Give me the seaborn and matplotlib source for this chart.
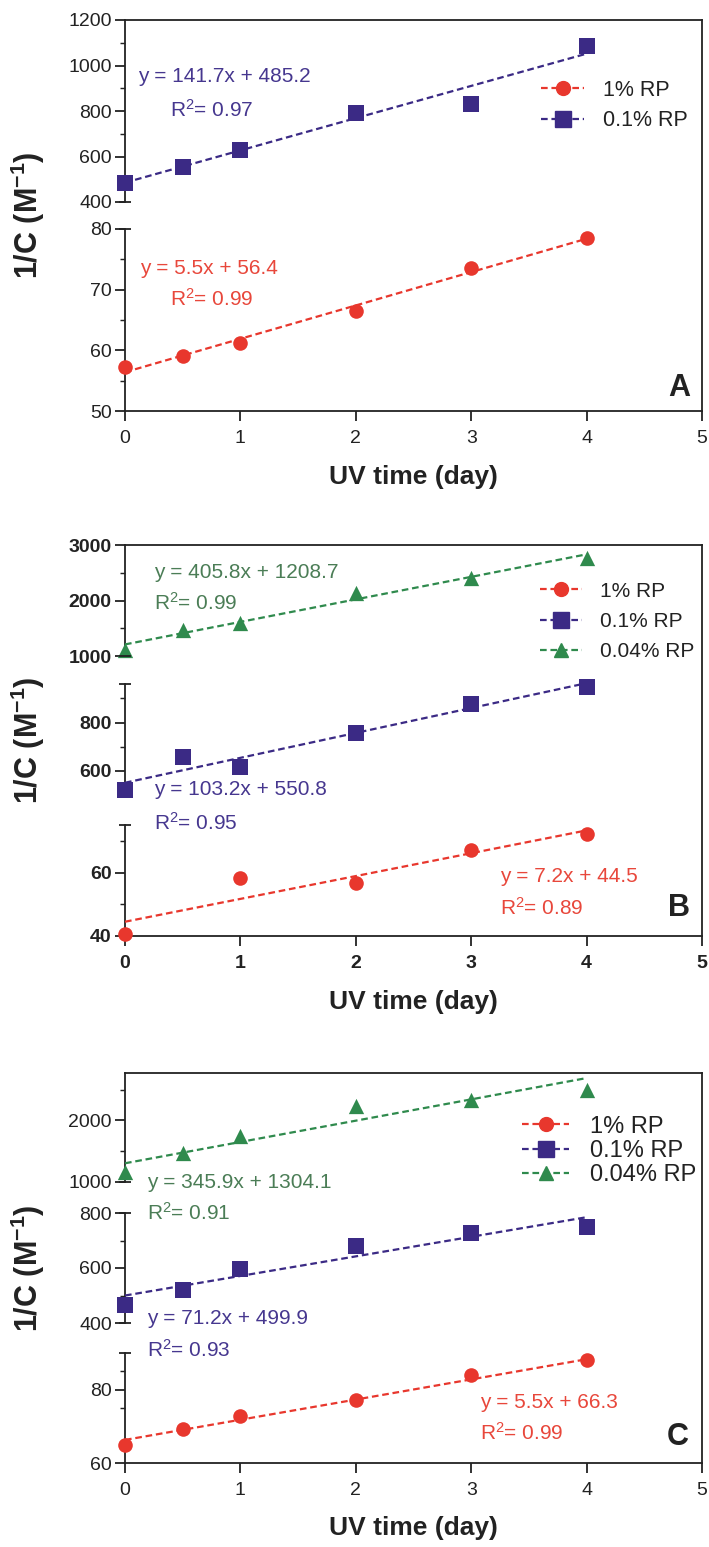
import numpy as np
import pandas as pd
import matplotlib
matplotlib.use("Agg")
import matplotlib.pyplot as plt
from matplotlib.lines import Line2D
import seaborn as sns

# ---------------- data ----------------
days = [0, 0.5, 1, 2, 3, 4]
days_b_rp1 = [0, 1, 2, 3, 4]

# Panel A
a_rp1 = [57.2, 59.0, 61.2, 66.5, 73.6, 78.5]
a_rp01 = [484, 552, 630, 793, 829, 1085]
a_fit_rp1 = (5.5, 56.4, 0.99)
a_fit_rp01 = (141.7, 485.2, 0.97)

# Panel B
b_rp1 = [40.5, 58.4, 56.8, 67.0, 72.3]
b_rp01 = [520, 657, 614, 755, 876, 948]
b_rp004 = [1108, 1468, 1600, 2129, 2399, 2759]
b_fit_rp1 = (7.2, 44.5, 0.89)
b_fit_rp01 = (103.2, 550.8, 0.95)
b_fit_rp004 = (405.8, 1208.7, 0.99)

# Panel C
c_rp1 = [65.0, 69.4, 72.7, 77.2, 83.9, 88.0]
c_rp01 = [466, 519, 597, 679, 727, 749]
c_rp004 = [1162, 1470, 1741, 2227, 2335, 2486]
c_fit_rp1 = (5.5, 66.3, 0.99)
c_fit_rp01 = (71.2, 499.9, 0.93)
c_fit_rp004 = (345.9, 1304.1, 0.91)

series_labels = ["1% RP", "0.1% RP", "0.04% RP"]
x_ticks = [0, 1, 2, 3, 4, 5]

# ---------------- style ----------------
sns.set_theme(style="ticks")
plt.rcParams["font.family"] = ["Liberation Sans", "DejaVu Sans"]
plt.rcParams["mathtext.fontset"] = "custom"
plt.rcParams["mathtext.rm"] = "Liberation Sans"
plt.rcParams["mathtext.it"] = "Liberation Sans:italic"
plt.rcParams["mathtext.bf"] = "Liberation Sans:bold"

RED, PURPLE, GREEN = "#e8372d", "#3b2a85", "#2f8a4d"
RED_T, PURPLE_T, GREEN_T = "#e8473b", "#46378f", "#4b7d56"
INK = "#222222"
SPINE_W = 1.3
FIT_W = 1.6
FIT_DASH = (3.0, 1.7)

W, H = 709, 1547
fig = plt.figure(figsize=(W / 100, H / 100), dpi=100)
X0, X1 = 125, 702


def fx(px):
    return px / W


def fy(py):
    return 1 - py / H


def new_axes(top, bottom):
    ax = fig.add_axes([fx(X0), fy(bottom), (X1 - X0) / W, (bottom - top) / H])
    ax.set_facecolor("none")
    return ax


def frame(top, bottom):
    fr = new_axes(top, bottom)
    fr.set_zorder(0)
    fr.set_xticks([])
    fr.set_yticks([])
    for side in ("left", "bottom"):
        fr.spines[side].set_visible(False)
    for side in ("top", "right"):
        fr.spines[side].set_linewidth(SPINE_W)
        fr.spines[side].set_color(INK)
    return fr


def segment(top, bottom, ylim, majors, minors, is_bottom, bold, cap_low, cap_high, tick_fs):
    ax = new_axes(top, bottom)
    ax.set_zorder(2)
    ax.set_xlim(0, 5)
    ax.set_ylim(*ylim)
    for side in ("top", "right"):
        ax.spines[side].set_visible(False)
    ax.spines["left"].set_linewidth(SPINE_W)
    ax.spines["left"].set_color(INK)
    ax.set_yticks(majors)
    ax.set_yticks(minors, minor=True)
    ax.tick_params(axis="y", which="major", length=7.5, width=SPINE_W, pad=2,
                   labelsize=tick_fs, colors=INK, direction="out")
    ax.tick_params(axis="y", which="minor", length=3.5, width=SPINE_W * 0.8,
                   colors=INK, direction="out")
    if is_bottom:
        ax.spines["bottom"].set_linewidth(SPINE_W)
        ax.spines["bottom"].set_color(INK)
        ax.set_xticks(x_ticks)
        ax.set_xticklabels([str(t) for t in x_ticks])
        ax.tick_params(axis="x", which="major", length=7.5, width=SPINE_W, pad=6,
                       labelsize=tick_fs, colors=INK, direction="out")
    else:
        ax.spines["bottom"].set_visible(False)
        ax.set_xticks([])
    ax.set_xlabel("")
    if bold:
        for lab in ax.get_yticklabels() + ax.get_xticklabels():
            lab.set_fontweight("bold")
    # break caps at the open ends of the broken left axis
    ends = []
    if cap_low:
        ends.append(ylim[0])
    if cap_high:
        ends.append(ylim[1])
    if ends:
        ax.plot([0] * len(ends), ends, ls="none", marker="_", ms=9, mew=SPINE_W,
                color=INK, clip_on=False, zorder=6)
    return ax


def draw_series(ax, x, y, fit, color, marker, size):
    df = pd.DataFrame({"day": x, "inv_c": y})
    sns.scatterplot(data=df, x="day", y="inv_c", ax=ax, color=color, marker=marker,
                    s=size ** 2, linewidth=0, clip_on=False, zorder=5, legend=False)
    slope, icpt, _ = fit
    xf = np.array([min(x), max(x)], dtype=float)
    fit_df = pd.DataFrame({"day": xf, "inv_c": slope * xf + icpt})
    sns.lineplot(data=fit_df, x="day", y="inv_c", ax=ax, color=color, lw=FIT_W,
                 clip_on=False, zorder=4, legend=False)
    ax.lines[-1].set_dashes(FIT_DASH)
    ax.set_xlabel("")
    ax.set_ylabel("")


def fit_text(x, y, fit, color, fs=15):
    slope, icpt, r2 = fit
    fig.text(fx(x), fy(y), f"y = {slope}x + {icpt}", color=color, fontsize=fs,
             ha="left", va="center")


def r2_text(x, y, fit, color, fs=15):
    fig.text(fx(x), fy(y), f"R$^{{2}}$= {fit[2]:.2f}", color=color, fontsize=fs,
             ha="left", va="center")


MARK = {"1% RP": ("o", RED, 10.5), "0.1% RP": ("s", PURPLE, 11.5), "0.04% RP": ("^", GREEN, 11)}


def legend(labels, x, yc, fs, spacing):
    handles = []
    for lab in labels:
        m, c, s = MARK[lab]
        h = Line2D([], [], color=c, lw=FIT_W, ls=(0, FIT_DASH), marker=m, ms=s * 0.95,
                   mec=c, mfc=c)
        handles.append(h)
    fig.legend(handles, labels, loc="center left", bbox_to_anchor=(fx(x), fy(yc)),
               frameon=False, fontsize=fs, handlelength=2.0, handletextpad=0.9,
               labelspacing=spacing, borderpad=0, borderaxespad=0, labelcolor=INK)


def panel_labels(y_mid, xl_y):
    fig.text(fx(28), fy(y_mid), "1/C (M$^{\\mathbf{-1}}$)", rotation=90, fontsize=22,
             fontweight="bold", color=INK, ha="center", va="center")
    fig.text(fx((X0 + X1) / 2), fy(xl_y), "UV time (day)", fontsize=19,
             fontweight="bold", color=INK, ha="center", va="center")


# ---------------- panel A ----------------
frame(20, 411)
a_up = segment(20, 202, (400, 1200), [400, 600, 800, 1000, 1200], [500, 700, 900, 1100],
               False, False, True, False, 14)
a_lo = segment(229, 411, (50, 80), [50, 60, 70, 80], [55, 65, 75],
               True, False, False, True, 14)
m, c, s = MARK["0.1% RP"]
draw_series(a_up, days, a_rp01, a_fit_rp01, c, m, s)
m, c, s = MARK["1% RP"]
draw_series(a_lo, days, a_rp1, a_fit_rp1, c, m, s)
fit_text(138, 77, a_fit_rp01, PURPLE_T)
r2_text(170, 110, a_fit_rp01, PURPLE_T)
fit_text(140, 268, a_fit_rp1, RED_T)
r2_text(170, 299, a_fit_rp1, RED_T)
legend(series_labels[:2], 541, 105.5, 15.5, 0.45)
fig.text(fx(668), fy(388), "A", fontsize=22, fontweight="bold", color=INK,
         ha="left", va="center")
panel_labels(215, 477)

# ---------------- panel B ----------------
frame(545, 936)
b_up = segment(545, 656, (1000, 3000), [1000, 2000, 3000], [1500, 2500],
               False, True, True, False, 14)
b_mid = segment(684, 795, (500, 960), [600, 800], [700, 900],
                False, True, False, True, 14)
b_lo = segment(825, 936, (40, 75), [40, 60], [50, 70],
               True, True, False, True, 14)
m, c, s = MARK["0.04% RP"]
draw_series(b_up, days, b_rp004, b_fit_rp004, c, m, s)
m, c, s = MARK["0.1% RP"]
draw_series(b_mid, days, b_rp01, b_fit_rp01, c, m, s)
m, c, s = MARK["1% RP"]
draw_series(b_lo, days_b_rp1, b_rp1, b_fit_rp1, c, m, s)
fit_text(154, 573, b_fit_rp004, GREEN_T)
r2_text(154, 603, b_fit_rp004, GREEN_T)
fit_text(154, 790, b_fit_rp01, PURPLE_T)
r2_text(154, 823, b_fit_rp01, PURPLE_T)
fit_text(500, 877, b_fit_rp1, RED_T)
r2_text(500, 908, b_fit_rp1, RED_T)
legend(series_labels, 540, 621.5, 15, 0.55)
fig.text(fx(668), fy(908), "B", fontsize=22, fontweight="bold", color=INK,
         ha="left", va="center")
panel_labels(740, 1002)

# ---------------- panel C ----------------
frame(1073, 1463)
c_up = segment(1073, 1182, (1000, 2770), [1000, 2000], [1500, 2500],
               False, False, True, False, 14)
c_mid = segment(1213, 1323, (400, 800), [400, 600, 800], [500, 700],
                False, False, True, True, 14)
c_lo = segment(1353, 1463, (60, 90), [60, 80], [65, 75, 85],
               True, False, False, True, 14)
m, c, s = MARK["0.04% RP"]
draw_series(c_up, days, c_rp004, c_fit_rp004, c, m, s)
m, c, s = MARK["0.1% RP"]
draw_series(c_mid, days, c_rp01, c_fit_rp01, c, m, s)
m, c, s = MARK["1% RP"]
draw_series(c_lo, days, c_rp1, c_fit_rp1, c, m, s)
fit_text(147, 1182, c_fit_rp004, GREEN_T)
r2_text(147, 1213, c_fit_rp004, GREEN_T)
fit_text(147, 1319, c_fit_rp01, PURPLE_T)
r2_text(147, 1350, c_fit_rp01, PURPLE_T)
fit_text(480, 1403, c_fit_rp1, RED_T)
r2_text(480, 1433, c_fit_rp1, RED_T)
legend(series_labels, 522, 1151, 17, 0.1)
fig.text(fx(667), fy(1437), "C", fontsize=22, fontweight="bold", color=INK,
         ha="left", va="center")
panel_labels(1268, 1528)

fig.savefig("out.png", dpi=100, facecolor="white")
